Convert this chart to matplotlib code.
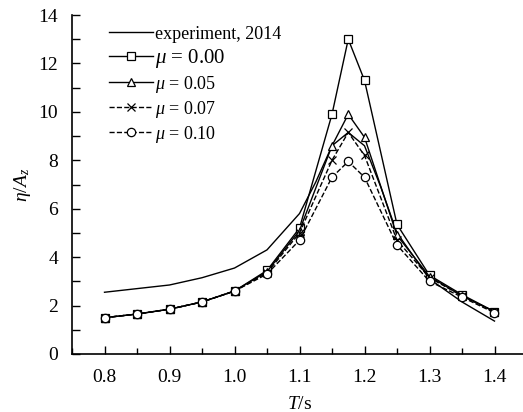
import numpy as np
import matplotlib
matplotlib.use("Agg")
import matplotlib.pyplot as plt
from matplotlib.ticker import MultipleLocator, FormatStrFormatter

plt.rcParams["font.family"] = ["Liberation Serif", "DejaVu Serif"]
plt.rcParams["mathtext.fontset"] = "custom"
plt.rcParams["mathtext.rm"] = "Liberation Serif"
plt.rcParams["mathtext.it"] = "Liberation Serif:italic"

# experiment curve
T_exp = [0.8, 0.85, 0.9, 0.95, 1.0, 1.05, 1.1, 1.125, 1.15, 1.175, 1.2, 1.225, 1.25, 1.3, 1.35, 1.4]
eta_exp = [2.55, 2.7, 2.85, 3.15, 3.55, 4.3, 5.8, 7.1, 8.6, 9.15, 8.6, 6.9, 5.0, 3.1, 2.15, 1.36]

# simulations
T_sim = [0.8, 0.85, 0.9, 0.95, 1.0, 1.05, 1.1, 1.15, 1.175, 1.2, 1.25, 1.3, 1.35, 1.4]
eta_mu000 = [1.5, 1.65, 1.85, 2.15, 2.6, 3.45, 5.2, 9.9, 13.0, 11.3, 5.35, 3.25, 2.45, 1.75]
eta_mu005 = [1.5, 1.65, 1.85, 2.15, 2.6, 3.4, 5.1, 8.6, 9.9, 8.95, 4.9, 3.2, 2.4, 1.75]
eta_mu007 = [1.5, 1.65, 1.85, 2.15, 2.6, 3.35, 5.0, 8.0, 9.15, 8.2, 4.7, 3.15, 2.4, 1.75]
eta_mu010 = [1.5, 1.65, 1.85, 2.15, 2.6, 3.3, 4.7, 7.3, 7.95, 7.3, 4.5, 3.0, 2.35, 1.7]

fig = plt.figure(figsize=(5.23, 4.12), dpi=100)
ax = fig.add_axes([72 / 523, 58 / 412, 455 / 523, 339 / 412])

mk = dict(markerfacecolor="white", markeredgecolor="black", markeredgewidth=0.9, markersize=6)
ax.plot(T_exp, eta_exp, "-", color="black", lw=1.0, label="experiment, 2014")
ax.plot(T_sim, eta_mu000, "-", marker="s", color="black", lw=1.0, label=r"$\mu$ = 0.00", **mk)
ax.plot(T_sim, eta_mu005, "-", marker="^", color="black", lw=1.0, label=r"$\mu$ = 0.05", **mk)
ax.plot(T_sim, eta_mu007, "--", marker="x", color="black", lw=1.0, label=r"$\mu$ = 0.07", **mk)
ax.plot(T_sim, eta_mu010, "--", marker="o", color="black", lw=1.0, label=r"$\mu$ = 0.10", **mk)

ax.set_xlim(0.75, 1.45)
ax.set_ylim(0, 14)
ax.xaxis.set_major_locator(MultipleLocator(0.1))
ax.xaxis.set_minor_locator(MultipleLocator(0.05))
ax.yaxis.set_major_locator(MultipleLocator(2))
ax.yaxis.set_minor_locator(MultipleLocator(1))
ax.xaxis.set_major_formatter(FormatStrFormatter("%.1f"))
ax.tick_params(which="both", direction="in", labelsize=14, width=1.0)
ax.tick_params(which="major", length=6)
ax.tick_params(which="minor", length=4)
ax.tick_params(axis="y", which="minor", length=6)
ax.tick_params(axis="x", pad=11)
ax.tick_params(axis="y", pad=10)
ax.spines["top"].set_visible(False)
ax.spines["right"].set_visible(False)
for s in ("left", "bottom"):
    ax.spines[s].set_linewidth(1.2)

ax.set_xlabel(r"$T$/s", fontsize=14, labelpad=7)
ax.set_ylabel(r"$\eta/A_z$", fontsize=14, labelpad=4)

leg = ax.legend(loc="upper left", bbox_to_anchor=(0.066, 0.99), frameon=False, fontsize=13,
                handlelength=2.4, handletextpad=0.15, labelspacing=0.22, borderaxespad=0)
leg.get_texts()[1].set_fontsize(15)

fig.savefig("out.png", dpi=100)
